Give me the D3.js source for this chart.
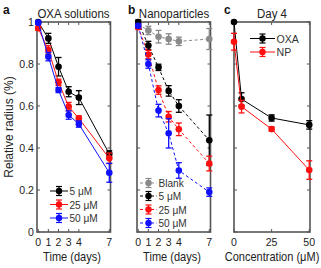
<!DOCTYPE html>
<html><head><meta charset="utf-8">
<script src="https://cdn.jsdelivr.net/npm/d3@7"></script>
<style>body{margin:0;background:#fff}svg{display:block;font-family:"Liberation Sans",Arial,sans-serif}</style>
</head><body><svg id="c" width="321" height="268"></svg>
<script>
const days = [0,1,2,3,4,7];
const dayTicks = [0,1,2,3,4,7];
const yTicks = [0,0.2,0.4,0.6,0.8,1];
const yTickLabels = ["0","0.2","0.4","0.6","0.8","1"];
const aOxa5 = [1.0,0.922,0.787,0.668,0.64,0.372];
const aOxa5Err = [0,0.024,0.044,0.024,0.033,0.015];
const aOxa25 = [0.97,0.867,0.713,0.597,0.541,0.351];
const aOxa25Err = [0.01,0.02,0.015,0.02,0.012,0.025];
const aOxa50 = [0.997,0.835,0.676,0.557,0.514,0.282];
const aOxa50Err = [0.008,0.02,0.012,0.02,0.015,0.045];
const bBlank = [0.99,0.96,0.93,0.919,0.908,0.919];
const bBlankErr = [0.01,0.02,0.03,0.025,0.02,0.05];
const bNp5 = [1.0,0.888,0.784,0.672,0.6,0.437];
const bNp5Err = [0.01,0.02,0.015,0.025,0.03,0.12];
const bNp25 = [0.975,0.845,0.676,0.549,0.489,0.326];
const bNp25Err = [0.01,0.02,0.02,0.025,0.03,0.035];
const bNp50 = [0.982,0.8,0.578,0.47,0.293,0.19];
const bNp50Err = [0.01,0.02,0.03,0.07,0.037,0.02];
const concs = [0,5,25,50];
const concTicks = [0,25,50];
const cOxa = [1.0,0.633,0.543,0.51];
const cOxaErr = [0,0.03,0.015,0.02];
const cNp = [0.906,0.597,0.49,0.295];
const cNpErr = [0.04,0.03,0.01,0.044];

const svg = d3.select("#c");
const BLACK="#000", RED="#ff1010", BLUE="#1010ff", GREY="#8a8a8a", AX="#555", TXT="#222";
const y = d3.scaleLinear().domain([0,1]).range([232,22]);

function txt(x,yy,s,size,anchor,opts={}){
  const t = svg.append("text").attr("transform",`translate(${x},${yy}) scale(${opts.sx||0.92},1)${opts.rot?` rotate(${opts.rot})`:""}`)
    .attr("font-size",size).attr("text-anchor",anchor).attr("fill",opts.fill||TXT).text(s);
  if(opts.bold) t.attr("font-weight","bold");
  return t;
}

function frame(x, xt, xtl, showY){
  const [x0,x1] = x.range();
  const g = svg.append("g");
  // ticks inward
  const tl = 3;
  yTicks.forEach(v=>{
    g.append("line").attr("x1",x0).attr("x2",x0+tl).attr("y1",y(v)).attr("y2",y(v)).attr("stroke",AX).attr("stroke-width",1);
    g.append("line").attr("x1",x1).attr("x2",x1-tl).attr("y1",y(v)).attr("y2",y(v)).attr("stroke",AX).attr("stroke-width",1);
  });
  xt.forEach(v=>{
    g.append("line").attr("x1",x(v)).attr("x2",x(v)).attr("y1",y(0)).attr("y2",y(0)-tl).attr("stroke",AX).attr("stroke-width",1);
    g.append("line").attr("x1",x(v)).attr("x2",x(v)).attr("y1",y(1)).attr("y2",y(1)+tl).attr("stroke",AX).attr("stroke-width",1);
  });
  g.append("rect").attr("x",x0).attr("y",y(1)).attr("width",x1-x0).attr("height",y(0)-y(1))
    .attr("fill","none").attr("stroke",AX).attr("stroke-width",1.6);
  xt.forEach((v,i)=>txt(x(v),246,xtl[i],11.5,"middle"));
  if(showY) yTicks.forEach((v,i)=>txt(x0-3,y(v)+4,yTickLabels[i],11.5,"end"));
}

function series(x, xs, ys, es, color, dashed, r){
  const g = svg.append("g");
  const line = d3.line().x((d,i)=>x(xs[i])).y(d=>y(d));
  g.append("path").attr("d",line(ys)).attr("fill","none").attr("stroke",color).attr("stroke-width",1)
    .attr("stroke-dasharray",dashed?"3,2.5":null);
  ys.forEach((v,i)=>{
    const e = es[i]; if(e<=0) return;
    const cx = x(xs[i]);
    g.append("line").attr("x1",cx).attr("x2",cx).attr("y1",y(v-e)).attr("y2",y(v+e)).attr("stroke",color).attr("stroke-width",1.3);
    [v-e,v+e].forEach(w=>g.append("line").attr("x1",cx-3).attr("x2",cx+3).attr("y1",y(w)).attr("y2",y(w)).attr("stroke",color).attr("stroke-width",1.3));
  });
  ys.forEach((v,i)=>g.append("circle").attr("cx",x(xs[i])).attr("cy",y(v)).attr("r",r||3.3).attr("fill",color));
}

function legend(x0, x1, yy, color, dashed, label, size){
  const g = svg.append("g");
  g.append("line").attr("x1",x0).attr("x2",x1).attr("y1",yy).attr("y2",yy).attr("stroke",color).attr("stroke-width",1)
    .attr("stroke-dasharray",dashed?"3,2.5":null);
  const cx=(x0+x1)/2;
  g.append("line").attr("x1",cx).attr("x2",cx).attr("y1",yy-4.5).attr("y2",yy+4.5).attr("stroke",color).attr("stroke-width",1.2);
  [yy-4.5,yy+4.5].forEach(w=>g.append("line").attr("x1",cx-3).attr("x2",cx+3).attr("y1",w).attr("y2",w).attr("stroke",color).attr("stroke-width",1.2));
  g.append("circle").attr("cx",cx).attr("cy",yy).attr("r",3.2).attr("fill",color);
  txt(x1+1.5,yy+4,label,size||11,"start",{fill:"#333"});
}

// Panel a
const xa = d3.scaleLinear().domain([-0.12,7.12]).range([37,110.5]);
frame(xa, dayTicks, dayTicks.map(String), true);
series(xa, days, aOxa5, aOxa5Err, BLACK, false);
series(xa, days, aOxa25, aOxa25Err, RED, false);
series(xa, days, aOxa50, aOxa50Err, BLUE, false);
legend(50,68,191,BLACK,false,"5  μM");
legend(50,68,204.5,RED,false,"25 μM");
legend(50,68,218,BLUE,false,"50 μM");
txt(73.5,18,"OXA solutions",12.5,"middle");
txt(72,261,"Time (days)",12,"middle");
txt(13,127,"Relative radius (%)",12,"middle",{rot:-90,sx:1});
txt(3,14,"a",13,"start",{bold:true,fill:"#111"});

// Panel b
const xb = d3.scaleLinear().domain([-0.12,7.12]).range([137,210.5]);
frame(xb, dayTicks, dayTicks.map(String), false);
series(xb, days, bBlank, bBlankErr, GREY, true);
series(xb, days, bNp5, bNp5Err, BLACK, true);
series(xb, days, bNp25, bNp25Err, RED, true);
series(xb, days, bNp50, bNp50Err, BLUE, true);
legend(140,157,183,GREY,true,"Blank");
legend(140,157,196,BLACK,true,"5 μM");
legend(140,157,209.5,RED,true,"25 μM");
legend(140,157,223,BLUE,true,"50 μM");
txt(174,18,"Nanoparticles",12.5,"middle");
txt(172,261,"Time (days)",12,"middle");
txt(128,14,"b",13,"start",{bold:true,fill:"#111"});

// Panel c
const xc = d3.scaleLinear().domain([0,50.5]).range([234,310]);
frame(xc, concTicks, concTicks.map(String), false);
series(xc, concs, cOxa, cOxaErr, BLACK, false);
series(xc, concs, cNp, cNpErr, RED, false);
legend(250,275,38.5,BLACK,false,"OXA",11.5);
legend(250,275,52,RED,false,"NP",11.5);
txt(272,18,"Day 4",12.5,"middle");
txt(272,261,"Concentration (μM)",12,"middle");
txt(224,14,"c",13,"start",{bold:true,fill:"#111"});
</script></body></html>
